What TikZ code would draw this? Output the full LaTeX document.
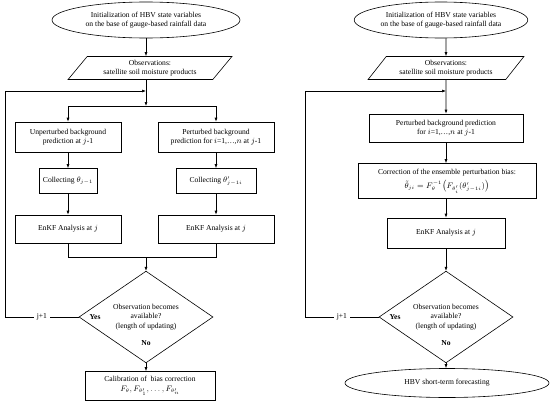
\documentclass[tikz,border=0pt]{standalone}
\usepackage{fontspec}
\setmainfont{Liberation Serif}
\usetikzlibrary{shapes.geometric,arrows.meta}
\begin{document}
\begin{tikzpicture}[x=1pt,y=-1pt,line width=0.6pt,
  every node/.style={font=\fontsize{7.6}{9.6}\selectfont,align=center,inner sep=1pt},
  box/.style={draw,rectangle,minimum width=#1},
  ell/.style={draw,ellipse,minimum width=#1},
  para/.style={draw,trapezium,trapezium left angle=52,trapezium right angle=128,
    trapezium stretches=true,minimum width=#1,minimum height=23},
  dec/.style={draw,diamond,minimum width=134,minimum height=79,inner sep=0pt},
  lab/.style={font=\fontsize{7.6}{9.6}\selectfont\bfseries},
  arr/.style={-{Latex[length=4pt,width=3pt]}}]
\useasboundingbox (0,0) rectangle (550,407);
% left chart
\node[ell=188,minimum height=36] (init) at (146,20)
  {Initialization of HBV state variables\\on the base of gauge-based rainfall data};
\node[para=164] (obs) at (150,68) {Observations:\\satellite soil moisture products};
\coordinate (loopin) at (146,91);
\coordinate (split) at (146,106);
\node[box=106,minimum height=30] (up) at (68,137) {Unperturbed background\\prediction at $j$-1};
\node[box=116,minimum height=30] (pb) at (216,137) {Perturbed background\\prediction for $i$=1,\ldots,$n$ at $j$-1};
\node[box=58,minimum height=25] (colA) at (68,181) {Collecting $\theta_{j-1}$};
\node[box=80,minimum height=25] (colB) at (216,181) {Collecting $\theta'_{j-1i}$};
\node[box=106,minimum height=28] (enA) at (68,229) {EnKF Analysis at $j$};
\node[box=116,minimum height=28] (enB) at (216,229) {EnKF Analysis at $j$};
\coordinate (join) at (146,257);
\node[dec] (dec) at (146,317) {Observation becomes\\available?\\(length of updating)};
\node[lab] (yesA) at (95,317) {Yes};
\node[lab] (noA) at (146,343) {No};
\node[box=130,minimum height=29] (cal) at (150,386)
  {Calibration of \ bias correction\\$F_\theta, F_{\theta'_1},\ldots, F_{\theta'_n}$};
\coordinate (cornA) at (5,317);
\draw[arr] (init) -- (init|-obs.north);
\draw[arr] (obs.south-|init) -- (split);
\draw[arr] (split) -| (up);
\draw[arr] (split) -| (pb);
\draw[arr] (up) -- (colA);
\draw[arr] (colA) -- (enA);
\draw[arr] (pb) -- (colB);
\draw[arr] (colB) -- (enB);
\draw (enA) |- (join);
\draw (enB) |- (join);
\draw[arr] (join) -- (dec);
\draw[arr] (dec) -- (dec|-cal.north);
\draw[arr] (dec.west) -- node[fill=white,inner sep=3pt] (stepA) {j+1} (cornA) |- (loopin);
% right chart
\node[ell=168,minimum height=36] (init2) at (441,20)
  {Initialization of HBV state variables\\on the base of gauge-based rainfall data};
\node[para=156] (obs2) at (446,68) {Observations:\\satellite soil moisture products};
\coordinate (loopin2) at (446,91);
\node[box=154,minimum height=28] (pb2) at (446,128) {Perturbed background prediction\\for $i$=1,\ldots,$n$ at $j$-1};
\node[box=178,minimum height=35] (corr) at (447,181)
  {Correction of the ensemble perturbation bias:\\[3pt]$\tilde{\theta}_{ji}=F_\theta^{-1}\bigl(F_{\theta'_i}(\theta'_{j-1i})\bigr)$};
\node[box=118,minimum height=30] (en2) at (446,233) {EnKF Analysis at $j$};
\node[dec] (dec2) at (446,317) {Observation becomes\\available?\\(length of updating)};
\node[lab] (yesB) at (395,317) {Yes};
\node[lab] (noB) at (446,343) {No};
\node[ell=204,minimum height=29] (fc) at (447,383) {HBV short-term forecasting};
\coordinate (cornB) at (305,317);
\draw[arr] (init2.south-|obs2) -- (obs2);
\draw[arr] (obs2) -- (pb2);
\draw[arr] (pb2) -- (pb2|-corr.north);
\draw[arr] (corr.south-|en2) -- (en2);
\draw[arr] (en2) -- (dec2);
\draw[arr] (dec2) -- (dec2|-fc.north);
\draw[arr] (dec2.west) -- node[fill=white,inner sep=3pt] (stepB) {j+1} (cornB) |- (loopin2);
\end{tikzpicture}
\end{document}
